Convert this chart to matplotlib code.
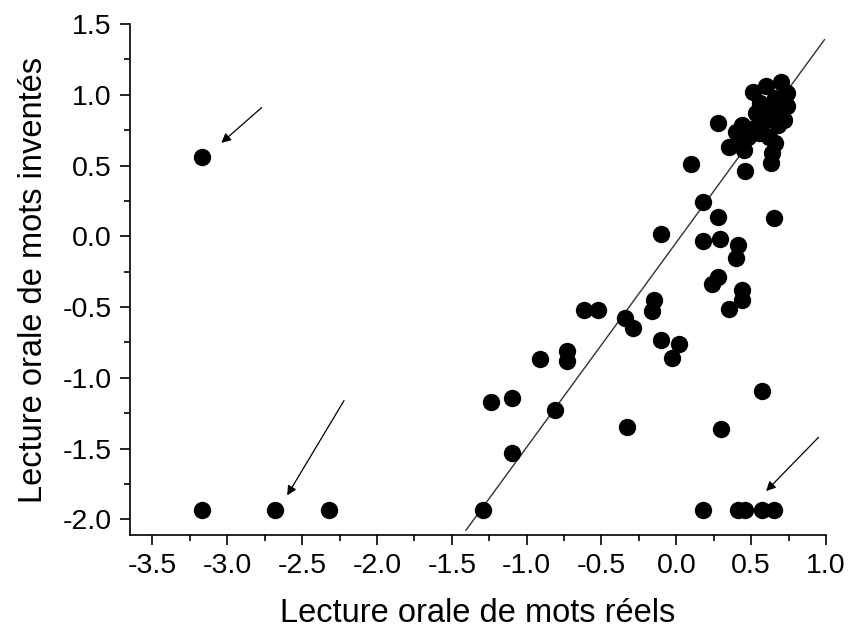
import numpy as np
import matplotlib.pyplot as plt
from matplotlib.ticker import MultipleLocator, FormatStrFormatter

plt.rcParams['font.family'] = ['Liberation Sans', 'DejaVu Sans']
plt.rcParams['axes.unicode_minus'] = False

# valeurs (z-scores)
mots_reels = [
    -3.17, -3.17, -2.68, -2.32, -1.29,
    0.18, 0.41, 0.46, 0.57, 0.65,
    0.18, 0.28, 0.65, -0.10, 0.18, 0.29, 0.41, 0.40, 0.28, 0.24,
    0.44, 0.44, 0.35, -0.15, -0.16, -0.62, -0.52, -0.34, -0.29, -0.10,
    0.02, -0.03, -0.73, -0.73, -0.91, -1.24, -1.10, -0.81, -1.10, -0.33,
    0.30, 0.57,
    0.28, 0.10, 0.46, 0.35, 0.45, 0.63, 0.64, 0.66, 0.51, 0.60,
    0.70, 0.74, 0.74, 0.72, 0.68, 0.44, 0.53, 0.56, 0.60, 0.64,
    0.66, 0.55, 0.48, 0.42, 0.62, 0.40, 0.50, 0.57, 0.70, 0.67,
]
mots_inventes = [
    0.56, -1.93, -1.93, -1.93, -1.93,
    -1.93, -1.93, -1.93, -1.93, -1.93,
    0.24, 0.14, 0.13, 0.02, -0.03, -0.02, -0.06, -0.15, -0.29, -0.34,
    -0.38, -0.45, -0.51, -0.45, -0.53, -0.52, -0.52, -0.58, -0.65, -0.73,
    -0.76, -0.86, -0.81, -0.88, -0.87, -1.17, -1.14, -1.23, -1.53, -1.35,
    -1.36, -1.09,
    0.80, 0.51, 0.46, 0.63, 0.61, 0.52, 0.59, 0.66, 1.02, 1.06,
    1.09, 1.01, 0.92, 0.82, 0.79, 0.79, 0.87, 0.94, 0.82, 0.89,
    0.98, 0.73, 0.70, 0.68, 0.70, 0.74, 0.76, 0.80, 0.94, 0.86,
]

# droite de régression
pente = 1.447
ordonnee = -0.043
x_droite = np.array([-1.405, 0.99])

# flèches (départ, arrivée)
fleches = [
    ((-2.77, 0.91), (-3.04, 0.66)),
    ((-2.22, -1.16), (-2.60, -1.83)),
    ((0.95, -1.42), (0.60, -1.80)),
]

fig = plt.figure(figsize=(8.51, 6.32), dpi=100)
ax = fig.add_axes([0.1528, 0.1535, 0.8178, 0.8085])

ax.plot(mots_reels, mots_inventes, 'o', color='black', markersize=12.5,
        markeredgewidth=0, zorder=3)
ax.plot(x_droite, ordonnee + pente * x_droite, color='#333333', lw=1.0, zorder=2)

for depart, arrivee in fleches:
    ax.annotate('', xy=arrivee, xytext=depart,
                arrowprops=dict(arrowstyle='-|>', color='black', lw=0.9,
                                mutation_scale=14, shrinkA=0, shrinkB=0))

ax.set_xlim(-3.65, 1.0)
ax.set_ylim(-2.11, 1.5)

ax.xaxis.set_major_locator(MultipleLocator(0.5))
ax.xaxis.set_minor_locator(MultipleLocator(0.25))
ax.yaxis.set_major_locator(MultipleLocator(0.5))
ax.yaxis.set_minor_locator(MultipleLocator(0.25))
ax.xaxis.set_major_formatter(FormatStrFormatter('%.1f'))
ax.yaxis.set_major_formatter(FormatStrFormatter('%.1f'))

ax.spines['top'].set_visible(False)
ax.spines['right'].set_visible(False)
for s in ['left', 'bottom']:
    ax.spines[s].set_linewidth(1.2)

ax.tick_params(which='major', direction='out', length=7, width=1.2,
               labelsize=20.5, pad=6)
ax.tick_params(which='minor', direction='out', length=4, width=1.2)

ax.set_xlabel('Lecture orale de mots réels', fontsize=23.5, labelpad=14)
ax.set_ylabel('Lecture orale de mots inventés', fontsize=23.5, labelpad=10)

fig.savefig('out.png', dpi=100)
